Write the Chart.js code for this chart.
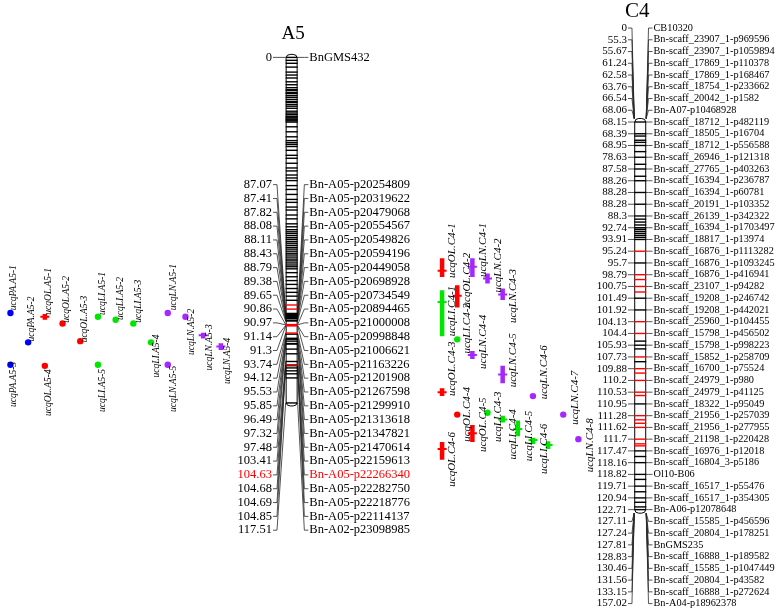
<!DOCTYPE html>
<html>
<head>
<meta charset="utf-8">
<script src="https://cdn.jsdelivr.net/npm/chart.js@4.4.1/dist/chart.umd.min.js"></script>
<style>
  html, body { margin: 0; padding: 0; background: #fff; }
</style>
</head>
<body>
<canvas id="map" width="778" height="615"></canvas>
<script>
// QTL map of linkage groups A5 and C4

// ---- A5: labelled markers (cM) ----
const a5Pos = [0, 87.07, 87.41, 87.82, 88.08, 88.11, 88.43, 88.79, 89.38, 89.65, 90.86, 90.97, 91.14, 91.3,
  93.74, 94.12, 95.53, 95.85, 96.49, 97.32, 97.48, 103.41, 104.63, 104.68, 104.69, 104.85, 117.51];
const a5Names = ['BnGMS432', 'Bn-A05-p20254809', 'Bn-A05-p20319622', 'Bn-A05-p20479068', 'Bn-A05-p20554567',
  'Bn-A05-p20549826', 'Bn-A05-p20594196', 'Bn-A05-p20449058', 'Bn-A05-p20698928', 'Bn-A05-p20734549',
  'Bn-A05-p20894465', 'Bn-A05-p21000008', 'Bn-A05-p20998848', 'Bn-A05-p21006621', 'Bn-A05-p21163226',
  'Bn-A05-p21201908', 'Bn-A05-p21267598', 'Bn-A05-p21299910', 'Bn-A05-p21313618', 'Bn-A05-p21347821',
  'Bn-A05-p21470614', 'Bn-A05-p22159613', 'Bn-A05-p22266340', 'Bn-A05-p22282750', 'Bn-A05-p22218776',
  'Bn-A05-p22114137', 'Bn-A02-p23098985'];
const a5RedName = 'Bn-A05-p22266340';
// unlabelled markers on the bar
const a5Ticks = [1.0, 2.0, 3.3, 5.0, 6.0, 7.0, 8.3, 9.3, 10.3, 11.0, 11.3, 12.0, 12.3, 13.0, 13.6, 14.3, 15.0,
  15.3, 16.0, 16.6, 17.3, 18.3, 18.9, 19.4, 20.0, 20.3, 20.6, 21.0, 21.3, 21.6, 22.0, 23.6, 25.3, 27.0, 28.3,
  29.0, 29.6, 30.3, 31.6, 33.3, 34.3, 36.0, 37.6, 38.6, 40.0, 41.0, 41.9, 43.6, 44.9, 46.6, 48.3, 49.3, 50.9,
  51.9, 53.6, 54.9, 56.6, 57.6, 58.6, 59.3, 59.9, 60.6, 61.3, 61.9, 62.6, 63.2, 63.9, 64.6, 65.2, 65.9, 66.6,
  67.2, 67.9, 68.6, 69.2, 69.9, 70.6, 71.2, 71.9, 73.2, 74.6, 75.9, 77.2, 78.6, 79.9, 81.2, 82.6, 99.2, 100.8,
  105.6, 106.6, 107.6, 109.0];
const a5RedMarks = [84.2, 85.6, 90.86, 90.97, 91.14, 91.3, 93.74, 104.63];

// ---- A5: QTL ----
const a5QtlNames = ['ucqPA.A5-1', 'ucqPA.A5-2', 'ucqPA.A5-3', 'ucqOL.A5-1', 'ucqOL.A5-2', 'ucqOL.A5-3',
  'ucqOL.A5-4', 'ucqLI.A5-1', 'ucqLI.A5-2', 'ucqLI.A5-3', 'ucqLI.A5-4', 'ucqLI.A5-5', 'ucqLN.A5-1',
  'ucqLN.A5-2', 'ucqLN.A5-3', 'ucqLN.A5-4', 'ucqLN.A5-5'];
const a5QtlTrait = ['PA', 'PA', 'PA', 'OL', 'OL', 'OL', 'OL', 'LI', 'LI', 'LI', 'LI', 'LI', 'LN', 'LN', 'LN', 'LN', 'LN'];
const a5QtlLow  = [86.9, 96.9, 104.5, 87.3, 90.5, 96.5, 104.9, 88.2, 89.2, 90.5, 96.9, 104.5, 86.9, 88.2, 93.6, 97.2, 104.5];
const a5QtlPeak = [86.9, 96.9, 104.5, 88.2, 90.5, 96.5, 104.9, 88.2, 89.2, 90.5, 96.9, 104.5, 86.9, 88.2, 94.5, 98.3, 104.5];
const a5QtlHigh = [86.9, 96.9, 104.5, 89.2, 90.5, 96.5, 104.9, 88.2, 89.2, 90.5, 96.9, 104.5, 86.9, 88.2, 95.6, 99.5, 104.5];

// ---- C4: labelled markers (cM) ----
const c4Pos = [0, 55.3, 55.67, 61.24, 62.58, 63.76, 66.54, 68.06, 68.15, 68.39, 68.95, 78.63, 87.58, 88.26,
  88.28, 88.28, 88.3, 92.74, 93.91, 95.24, 95.7, 98.79, 100.75, 101.49, 101.92, 104.13, 104.4, 105.93, 107.73,
  109.88, 110.2, 110.53, 110.95, 111.28, 111.62, 111.7, 117.47, 118.16, 118.82, 119.71, 120.94, 122.71, 127.11,
  127.24, 127.81, 128.83, 130.46, 131.56, 133.15, 157.02];
const c4Names = ['CB10320', 'Bn-scaff_23907_1-p969596', 'Bn-scaff_23907_1-p1059894', 'Bn-scaff_17869_1-p110378',
  'Bn-scaff_17869_1-p168467', 'Bn-scaff_18754_1-p233662', 'Bn-scaff_20042_1-p1582', 'Bn-A07-p10468928',
  'Bn-scaff_18712_1-p482119', 'Bn-scaff_18505_1-p16704', 'Bn-scaff_18712_1-p556588', 'Bn-scaff_26946_1-p121318',
  'Bn-scaff_27765_1-p403263', 'Bn-scaff_16394_1-p236787', 'Bn-scaff_16394_1-p60781', 'Bn-scaff_20191_1-p103352',
  'Bn-scaff_26139_1-p342322', 'Bn-scaff_16394_1-p1703497', 'Bn-scaff_18817_1-p13974', 'Bn-scaff_16876_1-p1113282',
  'Bn-scaff_16876_1-p1093245', 'Bn-scaff_16876_1-p416941', 'Bn-scaff_23107_1-p94282', 'Bn-scaff_19208_1-p246742',
  'Bn-scaff_19208_1-p442021', 'Bn-scaff_25960_1-p104455', 'Bn-scaff_15798_1-p456502', 'Bn-scaff_15798_1-p998223',
  'Bn-scaff_15852_1-p258709', 'Bn-scaff_16700_1-p75524', 'Bn-scaff_24979_1-p980', 'Bn-scaff_24979_1-p41125',
  'Bn-scaff_18322_1-p95049', 'Bn-scaff_21956_1-p257039', 'Bn-scaff_21956_1-p277955', 'Bn-scaff_21198_1-p220428',
  'Bn-scaff_16976_1-p12018', 'Bn-scaff_16804_3-p5186', 'Ol10-B06', 'Bn-scaff_16517_1-p55476',
  'Bn-scaff_16517_1-p354305', 'Bn-A06-p12078648', 'Bn-scaff_15585_1-p456596', 'Bn-scaff_20804_1-p178251',
  'BnGMS235', 'Bn-scaff_16888_1-p189582', 'Bn-scaff_15585_1-p1047449', 'Bn-scaff_20804_1-p43582',
  'Bn-scaff_16888_1-p272624', 'Bn-A04-p18962378'];
const c4Span = [68.15, 122.71]; // part of the group drawn as the bar
const c4RedLabelled = [95.24, 98.79, 100.75, 104.13, 104.4, 107.73, 109.88, 110.2, 110.53, 111.28, 111.62, 111.7];
const c4RedTicks = [99.6, 101.1, 110.0, 110.65, 111.4, 111.5, 114.0, 115.0];
const c4Ticks = [68.5, 68.7, 68.8, 74, 84, 88.0, 89.5, 90.6, 91.7, 92.9, 93.1, 93.3, 93.5, 93.7, 105.4, 106.5,
  108.6, 117.8, 119.2, 120.3, 121.6, 122.3];

// ---- C4: QTL ----
const c4QtlNames = ['ucqOL.C4-1', 'ucqOL.C4-2', 'ucqOL.C4-3', 'ucqOL.C4-4', 'ucqOL.C4-5', 'ucqOL.C4-6',
  'ucqLI.C4-1', 'ucqLI.C4-2', 'ucqLI.C4-3', 'ucqLI.C4-4', 'ucqLI.C4-5', 'ucqLI.C4-6', '',
  'ucqLN.C4-1', 'ucqLN.C4-2', 'ucqLN.C4-3', 'ucqLN.C4-4', 'ucqLN.C4-5', 'ucqLN.C4-6', 'ucqLN.C4-7', 'ucqLN.C4-8'];
const c4QtlTrait = ['OL', 'OL', 'OL', 'OL', 'OL', 'OL', 'LI', 'LI', 'LI', 'LI', 'LI', 'LI', 'LI',
  'LN', 'LN', 'LN', 'LN', 'LN', 'LN', 'LN', 'LN'];
const c4QtlLow  = [95.52, 100.55, 110.42, 111.25, 111.55, 113.14, 100.99, 105.17, 111.2, 111.28, 111.42, 111.69, 112.68,
  95.52, 98.5, 100.88, 106.83, 109.34, 110.67, 111.25, 111.7];
const c4QtlPeak = [97.77, 101.34, 110.53, 111.25, 111.66, 116.5, 101.63, 105.17, 111.2, 111.39, 111.63, 112.16, 114.6,
  96.72, 99.44, 101.25, 107.42, 110.04, 110.67, 111.25, 111.7];
const c4QtlHigh = [99.18, 101.83, 110.67, 111.25, 113.14, 117.99, 104.78, 105.17, 111.2, 111.48, 111.68, 114.1, 116.5,
  99.18, 100.26, 101.56, 108.1, 110.28, 110.67, 111.25, 111.7];

// ---- layout (pixels) ----
const W = 778, H = 615;
const A5L = { x: 290, barW: 12, barTop: 52, barBottom: 405, rowFirst: 182, rowStep: 14.12,
  numRight: 270, nameLeft: 308, font: 12.5 };
const C4L = { x: 644.5, barW: 12, rowFirst: 22, rowStep: 12, numRight: 631, nameLeft: 658,
  numFont: 11, nameFont: 10.3 };
const a5QtlX = [4, 22, 4, 39, 57, 75, 39, 93, 111, 129, 147, 93, 164, 182, 200, 218, 164];
const a5QtlDrop = [-6, -4, 39, -5, -4, -2, 47, -5, -3, -4, 32, 44, -6, 35, 32, 34, 44];
const c4QtlCol = [0, 1, 0, 1, 2, 0, 0, 1, 3, 4, 5, 6, 7, 2, 3, 4, 2, 4, 6, 8, 9];
const c4QtlDrop = [1, 0, 0, 24, 10, 27, 0, 11, 26, 37, 25, 30, 0, 0, 9, 23, 10, 4, 0, 7, 30];
const c4QtlX = c4QtlCol.map(c => 443 + c * 15.4);
const traitColor = { PA: '#0000ff', OL: '#ff0000', LI: '#00e600', LN: '#a626ff' };
const SERIF = '"Liberation Serif", "Times New Roman", serif';
const DOT = 3.2;

// C4 bar is drawn in label rows: a cM value sits between the rows of its neighbouring labelled markers
const c4First = c4Pos.indexOf(c4Span[0]);
const c4Last = c4Pos.lastIndexOf(c4Span[1]);
function c4Row(v) {
  if (v < c4Pos[c4First]) return c4First - 0.3;
  if (v > c4Pos[c4Last]) return c4Last + 0.3;
  for (let j = c4First; j < c4Last; j++) {
    const a = c4Pos[j], b = c4Pos[j + 1];
    if (v >= a && v <= b) return b === a ? j : j + (v - a) / (b - a);
  }
  return c4Last;
}

// axis whose value v0 lands on pixel p0 and v1 on p1 (top-down)
function fitAxis(v0, p0, v1, p1) {
  const k = (v1 - v0) / (p1 - p0);
  const min = v0 - p0 * k;
  return { type: 'linear', display: false, reverse: true, bounds: 'data', grace: 0, min: min, max: min + H * k };
}

// ---- QTL datasets ----
function qtlSets(low, peak, high, trait, xs, yId, toY) {
  const sets = [];
  low.forEach((lo, i) => {
    const c = traitColor[trait[i]];
    if (lo === high[i]) {
      sets.push({ data: [{ x: xs[i], y: toY(peak[i]) }], yAxisID: yId, pointRadius: DOT,
        pointBackgroundColor: c, pointBorderWidth: 0 });
    } else {
      sets.push({ data: [{ x: xs[i], y: toY(lo) }, { x: xs[i], y: toY(high[i]) }], yAxisID: yId,
        showLine: true, borderColor: c, borderWidth: 4.5, borderCapStyle: 'butt', pointRadius: 0 });
      sets.push({ data: [{ x: xs[i], y: toY(peak[i]) }], yAxisID: yId, pointStyle: 'line',
        pointRadius: 4.5, borderColor: c, pointBorderColor: c, pointBorderWidth: 2 });
    }
  });
  return sets;
}
const datasets = [
  ...qtlSets(a5QtlLow, a5QtlPeak, a5QtlHigh, a5QtlTrait, a5QtlX, 'yA5', v => v),
  ...qtlSets(c4QtlLow, c4QtlPeak, c4QtlHigh, c4QtlTrait, c4QtlX, 'yC4', c4Row)
];

function hline(ctx, x0, x1, y) {
  ctx.beginPath(); ctx.moveTo(x0, y); ctx.lineTo(x1, y); ctx.stroke();
}

function drawGroup(ctx, g) {
  const half = g.barW / 2;
  // connectors from labels to the bar
  ctx.strokeStyle = '#2a2a2a';
  ctx.lineWidth = 0.8;
  g.pos.forEach((v, i) => {
    const ly = g.labelY(i), by = g.markY(i);
    ctx.beginPath();
    ctx.moveTo(g.numRight + 1, ly); ctx.lineTo(g.numRight + 5, ly); ctx.lineTo(g.cx - half, by);
    ctx.moveTo(g.cx + half, by); ctx.lineTo(g.nameLeft - 5, ly); ctx.lineTo(g.nameLeft - 1, ly);
    ctx.stroke();
  });
  // bar
  ctx.fillStyle = '#fff';
  ctx.strokeStyle = '#000';
  ctx.lineWidth = 1;
  ctx.beginPath();
  ctx.roundRect(g.cx - half + 0.5, g.barTop - 3, g.barW - 1, g.barBottom - g.barTop + 6, 4);
  ctx.fill(); ctx.stroke();
  // marker lines
  ctx.lineWidth = 1.4;
  ctx.strokeStyle = '#000';
  g.black.forEach(y => hline(ctx, g.cx - half, g.cx + half, y));
  ctx.strokeStyle = '#ff0000';
  g.red.forEach(y => hline(ctx, g.cx - half, g.cx + half, y));
  // labels
  ctx.textBaseline = 'middle';
  g.pos.forEach((v, i) => {
    const ly = g.labelY(i);
    ctx.fillStyle = g.names[i] === a5RedName ? '#ff0000' : '#000';
    ctx.font = g.numFont + 'px ' + SERIF;
    ctx.textAlign = 'right';
    ctx.fillText(String(v), g.numRight, ly);
    ctx.font = g.nameFont + 'px ' + SERIF;
    ctx.textAlign = 'left';
    ctx.fillText(g.names[i], g.nameLeft, ly);
  });
}

function drawQtlLabels(ctx, names, low, high, xs, drops, yScale, toY, size) {
  ctx.font = 'italic ' + size + 'px ' + SERIF;
  ctx.fillStyle = '#000';
  ctx.textAlign = 'left';
  ctx.textBaseline = 'middle';
  names.forEach((n, i) => {
    if (!n) return;
    const bottom = yScale.getPixelForValue(toY(high[i])) + (low[i] === high[i] ? DOT : 0) + drops[i];
    ctx.save();
    ctx.translate(xs[i] + 9, bottom);
    ctx.rotate(-Math.PI / 2);
    ctx.fillText(n, 0, 0);
    ctx.restore();
  });
}

const mapPlugin = {
  id: 'linkageMap',
  beforeDatasetsDraw(chart) {
    const ctx = chart.ctx, s = chart.scales;
    ctx.save();
    const px = v => s.x.getPixelForValue(v);

    // A5
    const a5Bar = v => s.yA5.getPixelForValue(v);
    const a5RedSet = new Set(a5RedMarks);
    drawGroup(ctx, {
      pos: a5Pos, names: a5Names, cx: px(A5L.x), barW: A5L.barW,
      numRight: px(A5L.numRight), nameLeft: px(A5L.nameLeft), numFont: A5L.font, nameFont: A5L.font,
      barTop: a5Bar(a5Pos[0]), barBottom: a5Bar(a5Pos[a5Pos.length - 1]),
      labelY: i => i === 0 ? a5Bar(a5Pos[0]) : s.yA5Lab.getPixelForValue(i),
      markY: i => a5Bar(a5Pos[i]),
      black: a5Ticks.concat(a5Pos.filter(v => !a5RedSet.has(v))).map(a5Bar),
      red: a5RedMarks.map(a5Bar)
    });

    // C4
    const c4Y = r => s.yC4.getPixelForValue(r);
    const inSpan = v => v >= c4Span[0] && v <= c4Span[1];
    const c4RedSet = new Set(c4RedLabelled);
    const c4Black = [], c4RedY = [];
    c4Pos.forEach((v, i) => {
      if (!inSpan(v)) return;
      (c4RedSet.has(v) ? c4RedY : c4Black).push(c4Y(i));
    });
    c4Ticks.forEach(v => c4Black.push(c4Y(c4Row(v))));
    c4RedTicks.forEach(v => c4RedY.push(c4Y(c4Row(v))));
    drawGroup(ctx, {
      pos: c4Pos, names: c4Names, cx: px(C4L.x), barW: C4L.barW,
      numRight: px(C4L.numRight), nameLeft: px(C4L.nameLeft), numFont: C4L.numFont, nameFont: C4L.nameFont,
      barTop: c4Y(c4First - 0.3) + 3, barBottom: c4Y(c4Last + 0.3) - 3,
      labelY: i => c4Y(i),
      markY: i => inSpan(c4Pos[i]) ? c4Y(i) : c4Y(c4Row(c4Pos[i])),
      black: c4Black, red: c4RedY
    });

    // group titles
    ctx.fillStyle = '#000';
    ctx.textAlign = 'center';
    ctx.textBaseline = 'middle';
    ctx.font = '19px ' + SERIF;
    ctx.fillText('A5', px(A5L.x + 1.5), 34);
    ctx.font = '21px ' + SERIF;
    ctx.fillText('C4', px(C4L.x - 3), 11);
    ctx.restore();
  },
  afterDatasetsDraw(chart) {
    const ctx = chart.ctx, s = chart.scales;
    ctx.save();
    drawQtlLabels(ctx, a5QtlNames, a5QtlLow, a5QtlHigh, a5QtlX, a5QtlDrop, s.yA5, v => v, 9.5);
    drawQtlLabels(ctx, c4QtlNames, c4QtlLow, c4QtlHigh, c4QtlX, c4QtlDrop, s.yC4, c4Row, 11);
    ctx.restore();
  }
};

new Chart(document.getElementById('map'), {
  type: 'scatter',
  data: { datasets: datasets },
  options: {
    responsive: false,
    animation: false,
    devicePixelRatio: 1,
    events: [],
    layout: { padding: 0 },
    plugins: { legend: { display: false }, tooltip: { enabled: false } },
    scales: {
      x: { type: 'linear', display: false, bounds: 'data', min: 0, max: W },
      y: { type: 'linear', display: false },
      yA5: fitAxis(0, A5L.barTop, a5Pos[a5Pos.length - 1], A5L.barBottom),
      yA5Lab: fitAxis(1, A5L.rowFirst, a5Pos.length - 1, A5L.rowFirst + A5L.rowStep * (a5Pos.length - 2)),
      yC4: fitAxis(0, C4L.rowFirst, c4Pos.length - 1, C4L.rowFirst + C4L.rowStep * (c4Pos.length - 1))
    }
  },
  plugins: [mapPlugin]
});
</script>
</body>
</html>
